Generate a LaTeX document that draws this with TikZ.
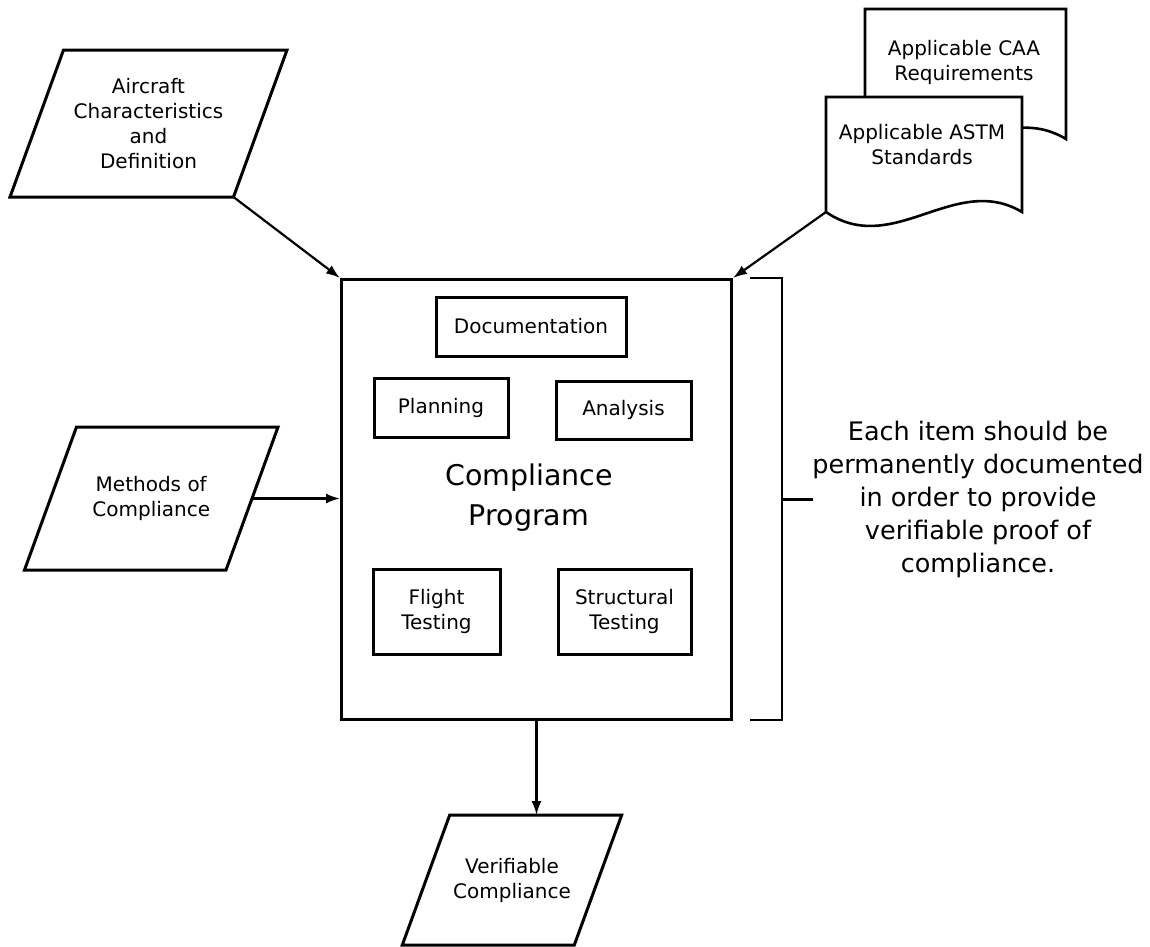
\documentclass[tikz,border=0pt]{standalone}
\usepackage{fontspec}
\setmainfont{DejaVu Sans}
\usetikzlibrary{positioning}
\usetikzlibrary{arrows.meta}

\tikzset{
        inbox/.style={draw, line width=3pt, align=center, inner sep=0pt, font=\fontsize{20}{25}\selectfont},
        datain/.style={rectangle, outer sep=0pt, align=center, inner sep=0pt, font=\fontsize{20}{25}\selectfont},
        paraline/.style={line width=3pt, line join=miter},
        docbox/.style={rectangle, outer sep=0pt, inner sep=0pt},
        docline/.style={draw, fill=white, line width=2.6pt},
        doctext/.style={align=center, inner sep=0pt, font=\fontsize{20}{25}\selectfont},
        flow/.style={-{Latex[length=14pt,width=10pt]}, line width=2.2pt},
        brace/.style={line width=2.2pt}
}
\newcommand{\paral}[2]{\draw[paraline] ([xshift=#2]#1.north west) -- ([xshift=#2]#1.north east) -- ([xshift=-#2]#1.south east) -- ([xshift=-#2]#1.south west) -- cycle;}

\begin{document}
\begin{tikzpicture}[x=1pt,y=-1pt]
        \useasboundingbox (0,0) rectangle (1150,946);

        \node[datain, minimum width=223.5, minimum height=147] (air) at (148.5,123.5) {Aircraft\\Characteristics\\and\\Definition};
        \node[datain, minimum width=201.5, minimum height=143] (meth) at (151.25,498.5) {Methods of\\Compliance};
        \node[datain, minimum width=172, minimum height=130] (ver) at (512,880) {Verifiable\\Compliance};
        \paral{air}{26.75}
        \paral{meth}{26}
        \paral{ver}{23.7}

        \node[docbox, minimum width=201, minimum height=130] (caa) at (965.5,74) {};
        \node[docbox, minimum width=196, minimum height=115] (astm) at (924,154.5) {};
        \draw[docline] (caa.south west) -- (caa.north west) -- (caa.north east) -- (caa.south east)
                .. controls +(-68,-41) and +(68,46) .. (caa.south west) -- cycle;
        \node[doctext] (caatext) at (964,62.5) {Applicable CAA\\Requirements};
        \draw[docline] (astm.south west) -- (astm.north west) -- (astm.north east) -- (astm.south east)
                .. controls +(-67,-40) and +(67,46) .. (astm.south west) -- cycle;
        \node[doctext] (astmtext) at (922,144.5) {Applicable ASTM\\Standards};

        \node[draw, line width=3pt, minimum width=390, minimum height=440] (prog) at (536.5,499.5) {};
        \node[align=center, inner sep=0pt, font=\fontsize{28.5}{40}\selectfont] (progtitle) at (529,498) {Compliance\\Program};
        \node[inbox, minimum width=190, minimum height=59] (doc) at (531,326.5) {Documentation};
        \node[inbox, minimum width=134, minimum height=59] (plan) at (441,407.5) {Planning};
        \node[inbox, minimum width=135, minimum height=58] (ana) at (623.5,410) {Analysis};
        \node[inbox, minimum width=127, minimum height=85] (flt) at (436.5,611.5) {Flight\\Testing};
        \node[inbox, minimum width=133, minimum height=85] (str) at (624.5,611.5) {Structural\\Testing};

        \node[align=center, inner sep=0pt, font=\fontsize{25.5}{33}\selectfont] (note) at (978,499) {Each item should be\\permanently documented\\in order to provide\\verifiable proof of\\compliance.};

        \draw[flow] ([xshift=-26.75]air.south east) -- (prog.north west);
        \draw[flow] (meth.east) -- (meth.east -| prog.west);
        \draw[flow] (astm.south west) -- (prog.north east);
        \draw[flow] (prog.south) -- (prog.south |- ver.north);

        \draw[brace] ([xshift=17]prog.north east) -- ++(32,0) -- ++(0,442) -- ++(-32,0);
        \draw[brace] ([xshift=49]prog.east) -- ++(31,0);
\end{tikzpicture}
\end{document}
